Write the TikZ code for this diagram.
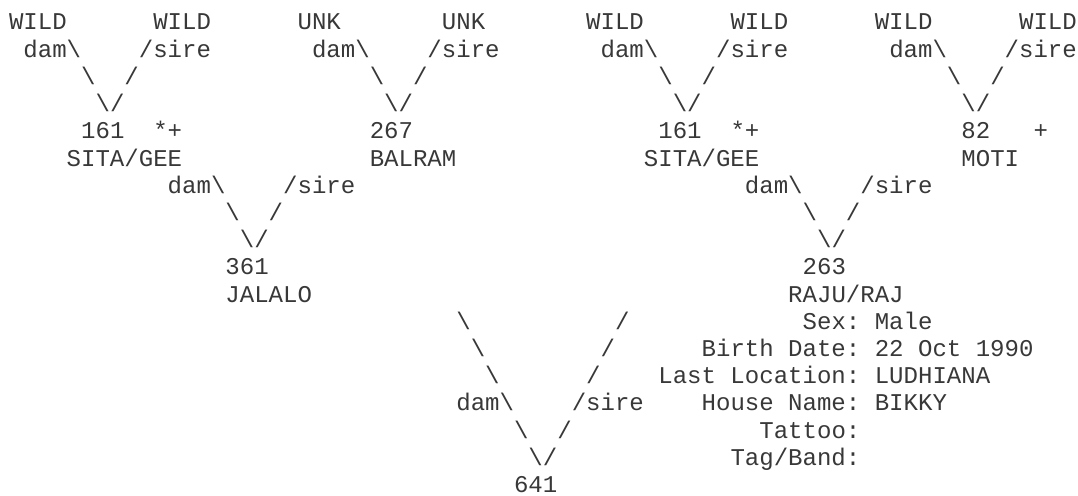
\documentclass[tikz,border=0pt]{standalone}
\usepackage{fontspec}
\setmonofont{Liberation Mono}
\newcommand\bs{\textbackslash}

\begin{document}
\begin{tikzpicture}[
  x=7.215pt, y=-13.6pt,
  txt/.style = {anchor=base west, inner sep=0pt, outer sep=0pt, text=black!78,
                font=\ttfamily\fontsize{12.02}{13.6}\selectfont},
]
  \useasboundingbox (-0.624,-1.103) rectangle (74.08,17.13);

  % grandparents and their parents
  \foreach \s/\dn/\sn/\id in {0/WILD/WILD/a, 20/UNK/UNK/b, 40/WILD/WILD/c, 60/WILD/WILD/d} {
    \node[txt] (dp\id) at (\s,0)    {\dn};
    \node[txt] (sp\id) at (\s+10,0) {\sn};
    \node[txt] (dl\id) at (\s+1,1)  {dam\bs};
    \node[txt] (sl\id) at (\s+9,1)  {/sire};
    \node[txt] (da\id) at (\s+5,2)  {\bs};
    \node[txt] (sa\id) at (\s+8,2)  {/};
    \node[txt] (v\id)  at (\s+6,3)  {\bs/};
  }

  \node[txt] (na)   at (5,4)  {161};
  \node[txt] (fa)   at (10,4) {*+};
  \node[txt] (nb)   at (25,4) {267};
  \node[txt] (nc)   at (45,4) {161};
  \node[txt] (fc)   at (50,4) {*+};
  \node[txt] (nd)   at (66,4) {82};
  \node[txt] (fd)   at (71,4) {+};
  \node[txt] (sita) at (4,5)  {SITA/GEE};
  \node[txt] (balr) at (25,5) {BALRAM};
  \node[txt] (sitb) at (44,5) {SITA/GEE};
  \node[txt] (moti) at (66,5) {MOTI};

  % parents
  \foreach \s/\id in {10/l, 50/r} {
    \node[txt] (dl\id) at (\s+1,6) {dam\bs};
    \node[txt] (sl\id) at (\s+9,6) {/sire};
    \node[txt] (da\id) at (\s+5,7) {\bs};
    \node[txt] (sa\id) at (\s+8,7) {/};
    \node[txt] (v\id)  at (\s+6,8) {\bs/};
  }

  \node[txt] (nl)   at (15,9)  {361};
  \node[txt] (nr)   at (55,9)  {263};
  \node[txt] (jal)  at (15,10) {JALALO};
  \node[txt] (raju) at (54,10) {RAJU/RAJ};

  % animal
  \node[txt] (d1) at (31,11) {\bs};
  \node[txt] (s1) at (42,11) {/};
  \node[txt] (d2) at (32,12) {\bs};
  \node[txt] (s2) at (41,12) {/};
  \node[txt] (d3) at (33,13) {\bs};
  \node[txt] (s3) at (40,13) {/};
  \node[txt] (d4) at (31,14) {dam\bs};
  \node[txt] (s4) at (39,14) {/sire};
  \node[txt] (d5) at (35,15) {\bs};
  \node[txt] (s5) at (38,15) {/};
  \node[txt] (v6) at (36,16) {\bs/};
  \node[txt] (id) at (35,17) {641};

  % details
  \node[txt] (ksex) at (55,11) {Sex:};
  \node[txt] (vsex) at (60,11) {Male};
  \node[txt] (kbd)  at (48,12) {Birth Date:};
  \node[txt] (vbd)  at (60,12) {22 Oct 1990};
  \node[txt] (kloc) at (45,13) {Last Location:};
  \node[txt] (vloc) at (60,13) {LUDHIANA};
  \node[txt] (khn)  at (48,14) {House Name:};
  \node[txt] (vhn)  at (60,14) {BIKKY};
  \node[txt] (ktat) at (52,15) {Tattoo:};
  \node[txt] (ktag) at (50,16) {Tag/Band:};
\end{tikzpicture}
\end{document}
